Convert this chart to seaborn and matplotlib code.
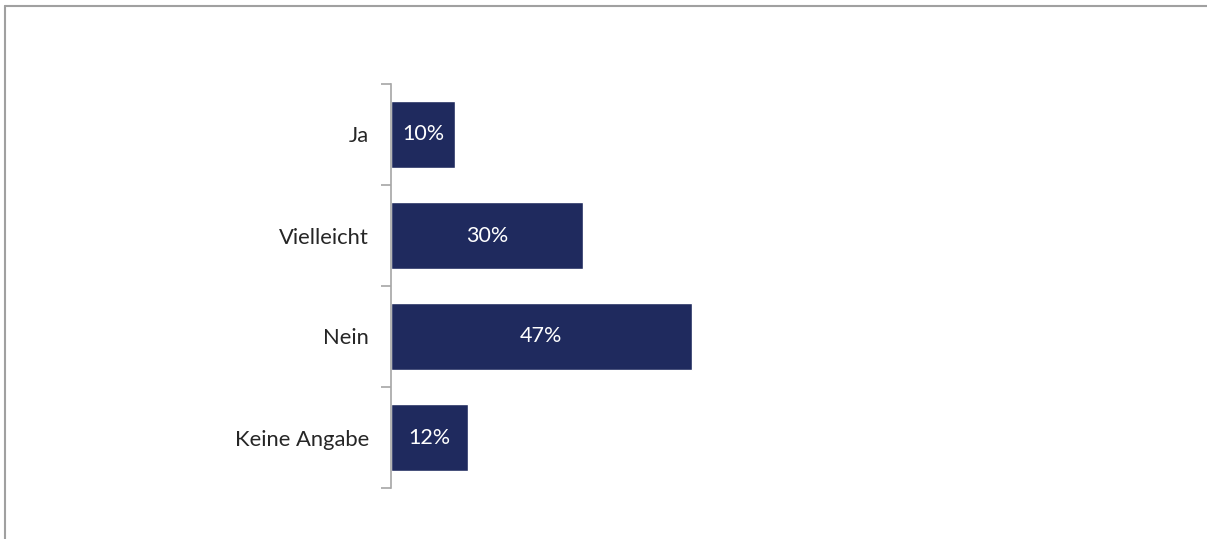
import matplotlib
matplotlib.use('Agg')
import matplotlib.pyplot as plt
import seaborn as sns
import pandas as pd

categories = ['Ja', 'Vielleicht', 'Nein', 'Keine Angabe']
values = [10, 30, 47, 12]
value_labels = ['10%', '30%', '47%', '12%']

df = pd.DataFrame({'antwort': categories, 'anteil': values})

sns.set_style('white')
plt.rcParams['font.family'] = ['Lato', 'DejaVu Sans']

fig = plt.figure(figsize=(12.07, 5.39), dpi=100)
ax = fig.add_axes([391 / 1207, 1 - 488 / 539, 640 / 1207, 404 / 539])

sns.barplot(data=df, x='anteil', y='antwort', color='#1F2A5E', width=0.66,
            saturation=1, ax=ax)

ax.set_xlim(0, 100)
ax.set_ylim(3.5, -0.5)
ax.set_xlabel('')
ax.set_ylabel('')
ax.set_xticks([])

# ticks on category boundaries, labels in the middle
ax.set_yticks([-0.5, 0.5, 1.5, 2.5, 3.5])
ax.set_yticklabels([])
ax.set_yticks(range(len(categories)), minor=True)
ax.set_yticklabels(categories, minor=True, fontsize=15.8, color='#262626')
ax.tick_params(axis='y', which='major', length=7, width=1.2, color='#A6A6A6', left=True)
ax.tick_params(axis='y', which='minor', length=0, pad=16)

for s in ['top', 'right', 'bottom']:
    ax.spines[s].set_visible(False)
ax.spines['left'].set_color('#A6A6A6')
ax.spines['left'].set_linewidth(1.2)

for i, (v, lab) in enumerate(zip(values, value_labels)):
    ax.text(v / 2, i, lab, ha='center', va='center', color='white', fontsize=15.5)

# outer frame (top and left edges visible)
fig.add_artist(plt.Line2D([5 / 1207, 5 / 1207], [0, 1 - 6 / 539], color='#A0A0A0', lw=1.5))
fig.add_artist(plt.Line2D([5 / 1207, 1], [1 - 6 / 539, 1 - 6 / 539], color='#A0A0A0', lw=1.5))

fig.savefig('out.png', dpi=100)
